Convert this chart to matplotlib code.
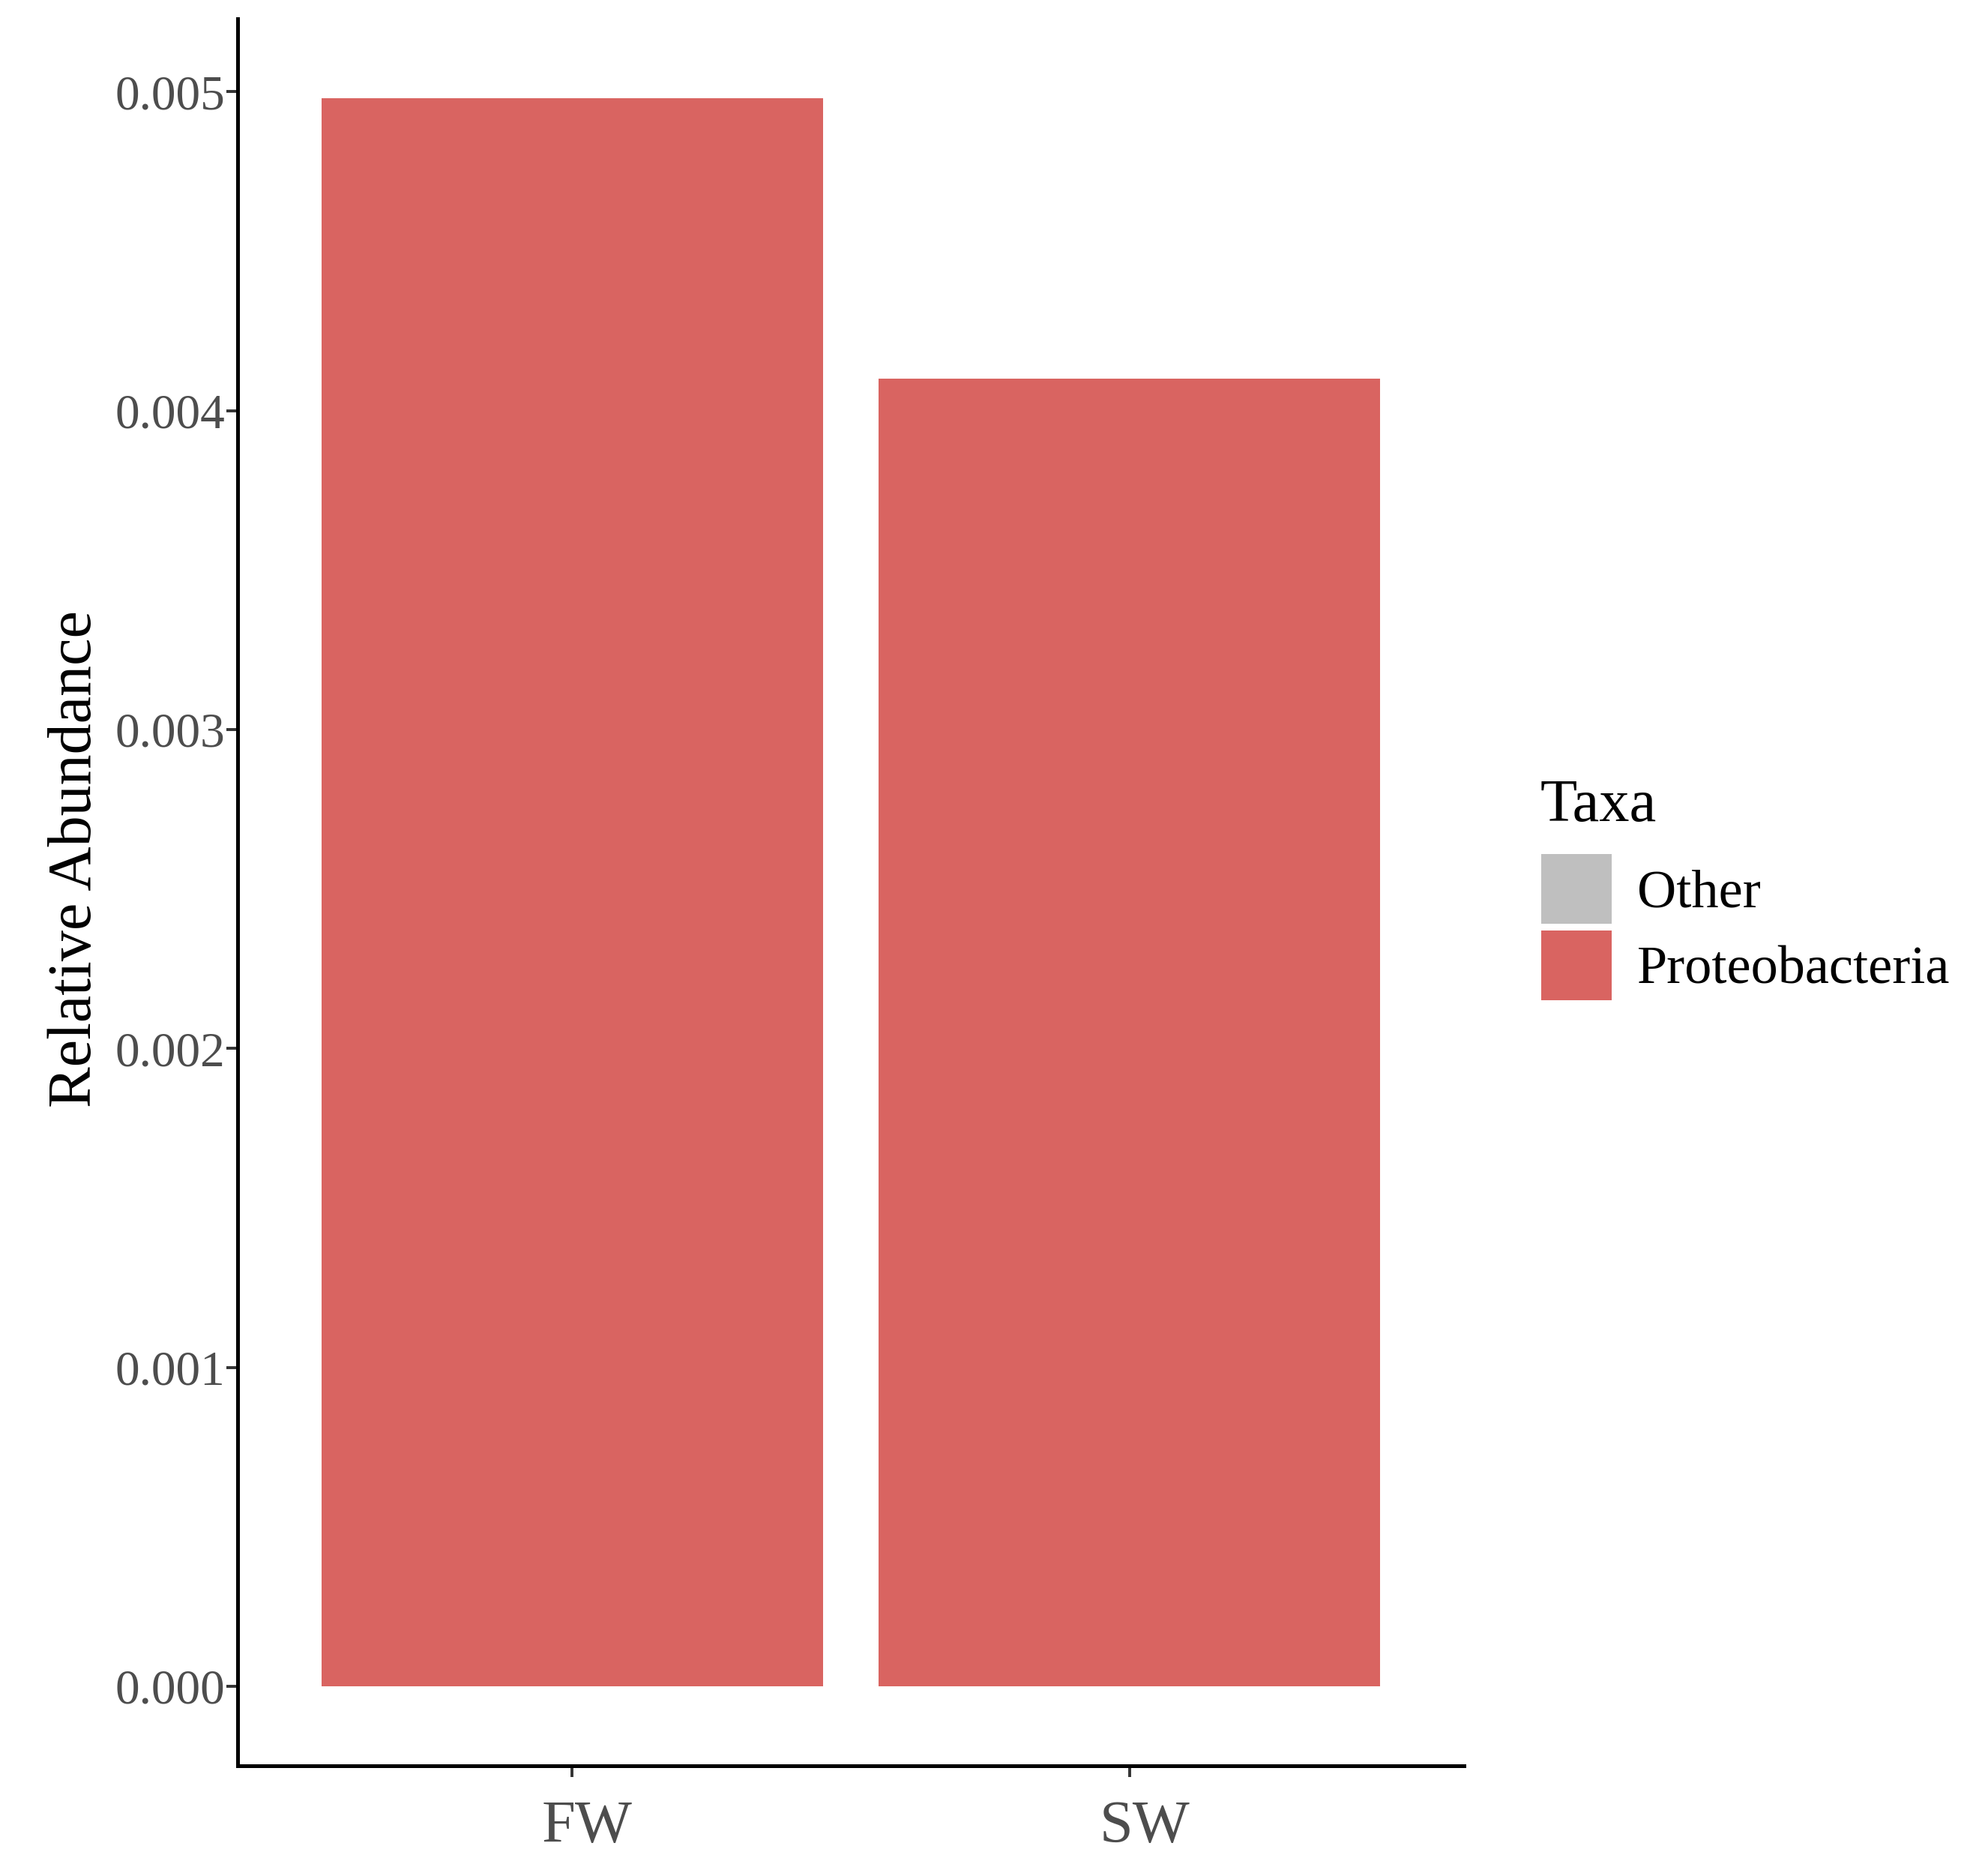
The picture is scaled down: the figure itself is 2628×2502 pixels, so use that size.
import matplotlib
matplotlib.use("Agg")
import matplotlib.pyplot as plt
import matplotlib.transforms as mtransforms
from matplotlib.patches import Patch

# --- data ---
groups = ["FW", "SW"]
abundance = [0.00498, 0.00410]
taxa = ["Other", "Proteobacteria"]
taxa_colors = ["#BFBFBF", "#D96461"]
y_ticks = [0.000, 0.001, 0.002, 0.003, 0.004, 0.005]

plt.rcParams['font.family'] = ['Liberation Serif', 'DejaVu Serif']

W, H = 2628, 2502
fig = plt.figure(figsize=(W / 100, H / 100), dpi=100)
ax = fig.add_axes([317 / W, 1 - 2355 / H, (1953 - 317) / W, (2355 - 25) / H])

x = list(range(1, len(groups) + 1))
ax.bar(x, abundance, width=0.9, color=taxa_colors[1], linewidth=0)

# ggplot-like expansion
ymax = max(abundance)
ax.set_ylim(-0.05 * ymax, 1.05 * ymax)
ax.set_xlim(0.4, len(groups) + 0.6)

ax.set_xticks(x)
ax.set_xticklabels(groups)
ax.set_yticks(y_ticks)
ax.set_yticklabels([f"{v:.3f}" for v in y_ticks])

for side in ['top', 'right']:
    ax.spines[side].set_visible(False)
for side in ['left', 'bottom']:
    ax.spines[side].set_linewidth(3.6)
    ax.spines[side].set_color('black')

ax.tick_params(axis='y', length=11, width=2.8, color='#333333',
               labelsize=47, labelcolor='#4D4D4D', pad=1)
ax.tick_params(axis='x', length=11, width=2.8, color='#333333',
               labelsize=58, labelcolor='#4D4D4D', pad=22)

# x labels sit a little right of their ticks in the original
shift = mtransforms.ScaledTranslation(0.20, 0, fig.dpi_scale_trans)
for lbl in ax.get_xticklabels():
    lbl.set_transform(lbl.get_transform() + shift)

ax.set_ylabel("Relative Abundance", fontsize=59, color='black')
ax.yaxis.set_label_coords(-0.109, 0.519)

# legend: title as separate text, keys via fig.legend
fig.text(2055 / W, 1 - 1095 / H, "Taxa", fontsize=58, color='black',
         ha='left', va='baseline')
handles = [Patch(facecolor=c, edgecolor='none', linewidth=0) for c in taxa_colors]
fig.legend(handles, taxa, loc='upper left',
           bbox_to_anchor=(2056 / W, 1 - 1139 / H),
           frameon=False, fontsize=52,
           handlelength=1.30, handleheight=1.605, labelspacing=0.125,
           handletextpad=0.47, borderaxespad=0, borderpad=0)

fig.savefig("out.png", dpi=100, facecolor='white')
